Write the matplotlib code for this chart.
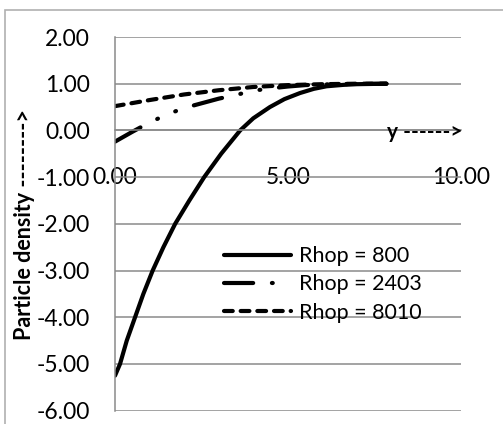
import matplotlib
matplotlib.use("Agg")
import matplotlib.pyplot as plt
from matplotlib.patches import Rectangle

# values
x_800 = [0.0, 0.145, 0.34, 0.58, 0.82, 1.09, 1.40, 1.74, 2.15, 2.58, 3.07, 3.62, 4.00, 4.48, 4.90, 5.35, 5.75, 6.12, 6.60, 7.00, 7.85]
y_800 = [-5.25, -5.00, -4.50, -4.00, -3.50, -3.00, -2.50, -2.00, -1.50, -1.00, -0.50, 0.00, 0.26, 0.50, 0.67, 0.80, 0.89, 0.945, 0.975, 0.99, 1.00]

x_2403 = [0.0, 0.5, 1.0, 1.5, 2.0, 2.5, 3.0, 3.5, 4.0, 4.5, 5.0, 5.5, 6.0, 7.0, 7.85]
y_2403 = [-0.24, -0.03, 0.17, 0.34, 0.48, 0.58, 0.68, 0.76, 0.85, 0.90, 0.94, 0.97, 0.985, 0.995, 1.00]

x_8010 = [0.0, 1.0, 2.0, 3.0, 4.0, 5.0, 6.0, 7.0, 7.85]
y_8010 = [0.52, 0.65, 0.77, 0.86, 0.93, 0.97, 0.99, 1.00, 1.00]

labels = ["Rhop = 800", "Rhop = 2403", "Rhop = 8010"]
yticks = [2, 1, 0, -1, -2, -3, -4, -5, -6]
xticks = [0, 5, 10]

plt.rcParams["font.family"] = ["Lato", "DejaVu Sans"]
GRID = "#8a8a8a"

fig = plt.figure(figsize=(5.03, 4.24), dpi=100)
# outer chart frame (only top and left edges fall inside the picture)
fig.patches.append(Rectangle((5 / 503, -0.1), 1.2, 1 - 9.5 / 424 + 0.1,
                             transform=fig.transFigure, fill=False,
                             edgecolor="#b0b0b0", lw=1.2))

ax = fig.add_axes([115 / 503, 1 - 410.7 / 424, 345.7 / 503, 373.7 / 424])

lw = 3.0
ax.plot(x_800, y_800, color="black", lw=lw, solid_capstyle="round", label=labels[0])
ax.plot(x_2403, y_2403, color="black", lw=lw, dashes=(7.0, 4.5, 0.2, 4.5, 0.2, 4.5),
        dash_capstyle="round", label=labels[1])
ax.plot(x_8010, y_8010, color="black", lw=lw, dashes=(2.1, 1.9),
        dash_capstyle="round", label=labels[2])

ax.set_xlim(0, 10)
ax.set_ylim(-6, 2)
ax.set_yticks(yticks)
ax.set_xticks(xticks)
ax.yaxis.set_major_formatter(lambda v, p: f"{v:.2f}")
ax.xaxis.set_major_formatter(lambda v, p: f"{v:.2f}")
ax.grid(axis="y", color=GRID, lw=1.1)
ax.set_axisbelow(True)

for s in ["top", "right"]:
    ax.spines[s].set_visible(False)
ax.spines["bottom"].set_position(("data", 0))
ax.spines["bottom"].set_color(GRID)
ax.spines["left"].set_color(GRID)
ax.spines["bottom"].set_linewidth(1.1)
ax.spines["left"].set_linewidth(1.1)
ax.tick_params(axis="both", length=0, labelsize=16.5, colors="black")
ax.tick_params(axis="y", pad=18)
ax.tick_params(axis="x", pad=26)

ax.text(0.787, 0.746, "y ------>", transform=ax.transAxes, fontsize=15,
        fontweight="bold", ha="left", va="center")
fig.text(25 / 503, 1 - 225 / 424, "Particle density -------->", rotation=90,
         fontsize=15.5, fontweight="bold", ha="center", va="center")

leg = ax.legend(loc="upper left", bbox_to_anchor=(0.29, 0.463), frameon=False,
                fontsize=15.5, handlelength=3.1, handletextpad=0.4,
                labelspacing=0.38, borderaxespad=0)

fig.savefig("out.png", dpi=100)
